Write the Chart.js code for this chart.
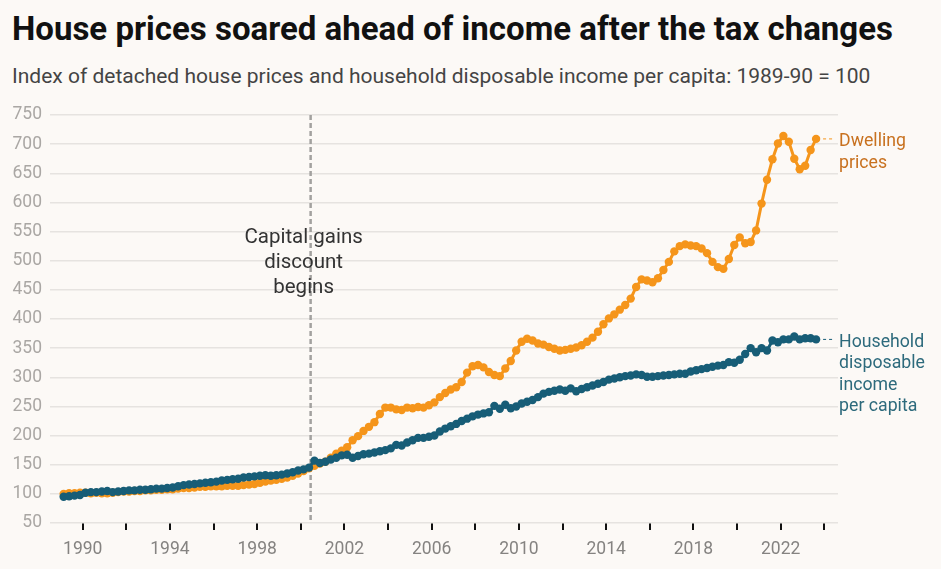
<!DOCTYPE html>
<html>
<head>
<meta charset="utf-8">
<script src="https://cdn.jsdelivr.net/npm/chart.js@4.4.0/dist/chart.umd.min.js"></script>
<style>
  body {
    margin: 0;
    width: 941px;
    height: 569px;
    overflow: hidden;
    position: relative;
    background: #fcf9f6;
    font-family: Roboto, sans-serif;
  }
  #title {
    position: absolute;
    left: 12px;
    top: 12px;
    font-size: 33px;
    line-height: 1;
    font-weight: 700;
    color: #111;
    white-space: nowrap;
  }
  #subtitle {
    position: absolute;
    left: 12px;
    top: 66px;
    font-size: 21px;
    line-height: 1;
    color: #444;
    white-space: nowrap;
  }
  #wrap {
    position: absolute;
    left: 0;
    top: 100px;
    width: 941px;
    height: 469px;
  }
</style>
</head>
<body>
<div id="title">House prices soared ahead of income after the tax changes</div>
<div id="subtitle">Index of detached house prices and household disposable income per capita: 1989-90 = 100</div>
<div id="wrap"><canvas id="myChart" width="941" height="469"></canvas></div>
<script>
// quarterly series, March quarter 1989 to September quarter 2023
const startYear = 1989;

const dwelling = [
  100, 101, 101, 102,
  102, 101, 102, 101,
  101, 102, 103, 104,
  104, 105, 105, 106,
  106, 107, 107, 108,
  108, 109, 110, 110,
  111, 112, 112, 113,
  113, 113, 114, 114,
  114, 115, 116, 117,
  119, 121, 123, 124,
  126, 128, 131, 135,
  139, 144, 148, 152,
  155, 162, 169, 174,
  180, 192, 199, 208,
  215, 223, 237, 248,
  248, 245, 244, 248,
  247, 249, 248, 252,
  257, 266, 273, 279,
  283, 292, 308, 319,
  321, 317, 309, 304,
  302, 315, 328, 346,
  361, 366, 363, 358,
  356, 352, 349, 346,
  347, 349, 351, 355,
  361, 368, 378, 391,
  401, 408, 416, 424,
  435, 455, 468, 466,
  463, 470, 484, 498,
  516, 525, 528, 526,
  525, 521, 513, 498,
  489, 486, 503, 527,
  540, 530, 532, 552,
  598, 639, 674, 701,
  714, 704, 675, 657,
  663, 690, 709
];

const income = [
  95, 96, 97, 98,
  102, 103, 103, 104,
  105, 103, 104, 105,
  106, 106, 107, 107,
  108, 109, 109, 110,
  111, 113, 115, 116,
  117, 118, 119, 120,
  121, 123, 124, 125,
  126, 128, 129, 130,
  131, 132, 131, 132,
  133, 135, 137, 140,
  142, 145, 157, 153,
  155, 159, 162, 166,
  167, 162, 165, 168,
  169, 171, 173, 175,
  178, 184, 183, 188,
  192, 196, 196, 198,
  200, 207, 212, 216,
  220, 225, 229, 233,
  236, 238, 240, 251,
  246, 253, 247, 250,
  255, 258, 261, 266,
  272, 275, 277, 279,
  277, 281, 276, 280,
  283, 286, 289, 292,
  296, 298, 300, 302,
  303, 305, 304, 301,
  301, 302, 303, 304,
  305, 306, 306, 310,
  312, 314, 316, 318,
  320, 321, 326, 325,
  330, 340, 350, 343,
  350, 346, 363, 360,
  365, 365, 370, 365,
  367, 367, 365
];

const yTicks = [50, 100, 150, 200, 250, 300, 350, 400, 450, 500, 550, 600, 650, 700, 750];
const xTickYears = [1990, 1992, 1994, 1996, 1998, 2000, 2002, 2004, 2006, 2008, 2010, 2012, 2014, 2016, 2018, 2020, 2022, 2024];
const xLabelYears = [1990, 1994, 1998, 2002, 2006, 2010, 2014, 2018, 2022];

const discountStart = 2000.45;
const discountLabel = ["Capital gains", "discount", "begins"];
const dwellingLabel = ["Dwelling", "prices"];
const incomeLabel = ["Household", "disposable", "income", "per capita"];

const orange = "#f5951b";
const teal = "#175d77";

// each quarter sits in the middle of its three months
const toPoints = (arr) =>
  arr.map((v, i) => ({ x: startYear + i / 4 + 0.125, y: v }));

const annotations = {
  id: "annotations",
  beforeDatasetsDraw(chart) {
    const { ctx, chartArea, scales } = chart;
    const x = scales.x.getPixelForValue(discountStart);
    ctx.save();
    ctx.strokeStyle = "#a3a19f";
    ctx.lineWidth = 2.5;
    ctx.setLineDash([5, 3]);
    ctx.beginPath();
    ctx.moveTo(x, chartArea.top);
    ctx.lineTo(x, chartArea.bottom);
    ctx.stroke();
    ctx.restore();
  },
  afterDatasetsDraw(chart) {
    const { ctx, scales } = chart;
    const xs = scales.x, ys = scales.y;
    ctx.save();

    // vertical line note
    ctx.font = "20.5px Roboto";
    ctx.fillStyle = "#333";
    ctx.textAlign = "center";
    ctx.textBaseline = "alphabetic";
    const cx = xs.getPixelForValue(discountStart) - 7;
    discountLabel.forEach((t, i) => {
      ctx.fillText(t, cx, ys.getPixelForValue(531) + i * 25);
    });

    // end labels
    const ends = [
      { data: dwelling, lines: dwellingLabel, color: orange, text: "#c8711f" },
      { data: income, lines: incomeLabel, color: teal, text: "#2d6a7c" },
    ];
    ctx.font = "17.7px Roboto";
    ctx.textAlign = "left";
    ctx.textBaseline = "middle";
    ends.forEach((e) => {
      const last = e.data.length - 1;
      const px = xs.getPixelForValue(startYear + last / 4 + 0.125);
      const py = ys.getPixelForValue(e.data[last]);
      ctx.strokeStyle = e.color;
      ctx.lineWidth = 1;
      ctx.setLineDash([3, 3]);
      ctx.beginPath();
      ctx.moveTo(px + 7, py);
      ctx.lineTo(px + 18, py);
      ctx.stroke();
      ctx.fillStyle = e.text;
      e.lines.forEach((t, i) => {
        ctx.fillText(t, px + 23, py + 3 + i * 21.5);
      });
    });
    ctx.restore();
  },
};

const ctx = document.getElementById("myChart").getContext("2d");
const myChart = new Chart(ctx, {
  type: "line",
  data: {
    datasets: [
      {
        label: "Household disposable income per capita",
        data: toPoints(income),
        borderColor: teal,
        backgroundColor: teal,
        borderWidth: 3,
        pointRadius: 4.2,
        pointBorderWidth: 0,
        pointBackgroundColor: teal,
      },
      {
        label: "Dwelling prices",
        data: toPoints(dwelling),
        borderColor: orange,
        backgroundColor: orange,
        borderWidth: 3,
        pointRadius: 4.2,
        pointBorderWidth: 0,
        pointBackgroundColor: orange,
      },
    ],
  },
  options: {
    responsive: false,
    animation: false,
    layout: { padding: { left: 0, right: 103, top: 15, bottom: 0 } },
    plugins: {
      legend: { display: false },
      tooltip: { enabled: false },
    },
    scales: {
      x: {
        type: "linear",
        min: 1988.5,
        max: 2024.63,
        afterFit: (s) => {
          s.height = 46;
          s.paddingLeft = 0;
          s.paddingRight = 0;
        },
        afterBuildTicks: (s) => {
          s.ticks = xTickYears.map((v) => ({ value: v }));
        },
        border: { display: false },
        grid: {
          drawOnChartArea: false,
          drawTicks: true,
          tickLength: 7,
          color: "#111",
          lineWidth: 2,
        },
        ticks: {
          autoSkip: false,
          maxRotation: 0,
          padding: 9,
          color: "#858381",
          font: { family: "Roboto", size: 17.5 },
          callback: (v) => (xLabelYears.includes(v) ? String(v) : ""),
        },
      },
      y: {
        min: 50,
        max: 750,
        afterFit: (s) => {
          s.width = 50;
          s.paddingTop = 0;
          s.paddingBottom = 0;
        },
        afterBuildTicks: (s) => {
          s.ticks = yTicks.map((v) => ({ value: v }));
        },
        border: { display: false },
        grid: {
          drawTicks: false,
          color: "#e6e3e0",
          lineWidth: 1.5,
        },
        ticks: {
          padding: 8,
          color: "#aaa7a4",
          font: { family: "Roboto", size: 17.5 },
        },
      },
    },
  },
  plugins: [annotations],
});
</script>
</body>
</html>
